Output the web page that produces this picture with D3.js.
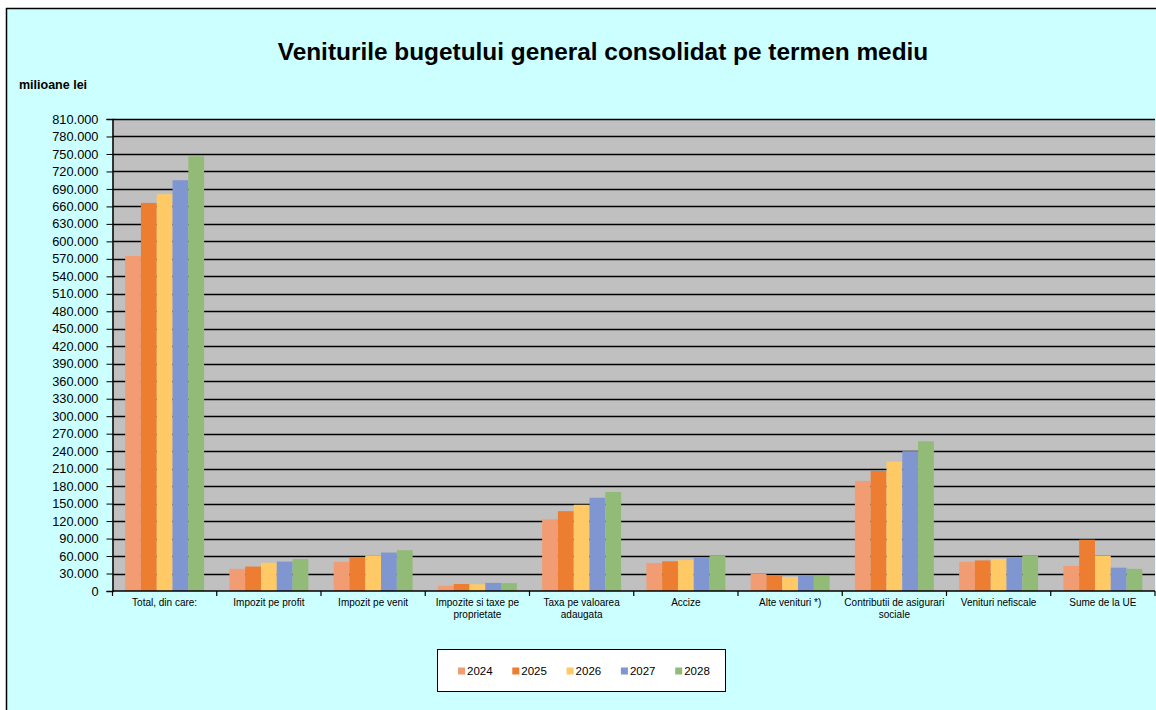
<!DOCTYPE html>
<html>
<head>
<meta charset="utf-8">
<script src="https://cdn.jsdelivr.net/npm/d3@7"></script>
<style>
  html, body { margin: 0; padding: 0; background: #fff; }
  text { font-family: "Liberation Sans", Arial, sans-serif; fill: #000; }
</style>
</head>
<body>
<svg id="chart" width="1156" height="710"></svg>
<script>
var categories = [
  "Total, din care:", "Impozit pe profit", "Impozit pe venit",
  "Impozite si taxe pe|proprietate", "Taxa pe valoarea|adaugata", "Accize",
  "Alte venituri *)", "Contributii de asigurari|sociale", "Venituri nefiscale",
  "Sume de la UE"
];
var years = ["2024", "2025", "2026", "2027", "2028"];

// milioane lei
var v2024 = [575000, 38000, 50000,  9000, 123000, 48000, 30000, 189000, 50000, 43000];
var v2025 = [666000, 42000, 57000, 12000, 137000, 51000, 26000, 206000, 52500, 88000];
var v2026 = [681000, 48500, 61000, 11500, 148000, 53000, 24000, 222000, 55000, 60500];
var v2027 = [705000, 50500, 66000, 14000, 160000, 57000, 26000, 240000, 57000, 40000];
var v2028 = [746000, 55000, 70000, 13500, 170000, 61000, 26000, 257000, 61000, 38000];
var series = [v2024, v2025, v2026, v2027, v2028];

var yTicks = d3.range(0, 810001, 30000);
var colors = ["#F29C74", "#ED7D31", "#FFC966", "#7F96D0", "#93BB78"];

var svg = d3.select("#chart");

// chart background + frame
svg.append("rect").attr("x", 6).attr("y", 8).attr("width", 1150).attr("height", 702)
  .attr("fill", "#CCFFFF");
svg.append("line").attr("x1", 6).attr("x2", 1156).attr("y1", 8.5).attr("y2", 8.5)
  .attr("stroke", "#000").attr("stroke-width", 1.5);
svg.append("line").attr("x1", 6.5).attr("x2", 6.5).attr("y1", 8).attr("y2", 710)
  .attr("stroke", "#000").attr("stroke-width", 1.5);

svg.append("text").attr("x", 603).attr("y", 60).attr("text-anchor", "middle")
  .style("font-size", "24.4px").style("font-weight", "bold")
  .text("Veniturile bugetului general consolidat pe termen mediu");

svg.append("text").attr("x", 19).attr("y", 89)
  .style("font-size", "12.5px").style("font-weight", "bold")
  .text("milioane lei");

var pLeft = 112.5, pRight = 1155, pTop = 119, pBottom = 591;

var x = d3.scaleBand().domain(categories).range([pLeft, pRight]).paddingInner(0).paddingOuter(0);
var inner = 79 / 104.25;
var xs = d3.scaleBand().domain(years)
  .range([x.bandwidth() * (1 - inner) / 2, x.bandwidth() * (1 + inner) / 2]);
var y = d3.scaleLinear().domain([0, 810000]).range([pBottom, pTop]);

svg.append("rect").attr("x", pLeft).attr("y", pTop).attr("width", pRight - pLeft)
  .attr("height", pBottom - pTop).attr("fill", "#C0C0C0");

// gridlines
svg.append("g").selectAll("line").data(yTicks.slice(1)).join("line")
  .attr("x1", pLeft).attr("x2", pRight)
  .attr("y1", function(d) { return Math.round(y(d)) + 0.5; })
  .attr("y2", function(d) { return Math.round(y(d)) + 0.5; })
  .attr("stroke", "#000").attr("stroke-width", 1.3);

// bars
var groups = svg.append("g").selectAll("g").data(categories).join("g")
  .attr("transform", function(d) { return "translate(" + x(d) + ",0)"; });
groups.selectAll("rect")
  .data(function(d, i) { return years.map(function(yr, j) { return { yr: yr, j: j, v: series[j][i] }; }); })
  .join("rect")
  .attr("x", function(d) { return xs(d.yr); })
  .attr("width", xs.bandwidth())
  .attr("y", function(d) { return y(d.v); })
  .attr("height", function(d) { return pBottom - y(d.v); })
  .attr("fill", function(d) { return colors[d.j]; });

// y axis
var yAxis = svg.append("g").attr("transform", "translate(" + pLeft + ",0)")
  .call(d3.axisLeft(y).tickValues(yTicks).tickSize(6).tickPadding(8)
    .tickFormat(function(d) { return d === 0 ? "0" : d3.format(",")(d).replace(/,/g, "."); }));
yAxis.select(".domain").attr("stroke", "#000").attr("stroke-width", 1.5);
yAxis.selectAll(".tick line").attr("stroke", "#000");
yAxis.selectAll("text").style("font-size", "12.8px")
  .style("font-family", "'Liberation Sans', Arial, sans-serif");

// x axis
var xAxisG = svg.append("g").attr("transform", "translate(0," + pBottom + ")");
xAxisG.append("line").attr("x1", pLeft).attr("x2", pRight).attr("y1", 0).attr("y2", 0)
  .attr("stroke", "#000").attr("stroke-width", 1.5);
xAxisG.selectAll(".xt").data(categories.concat(["__end"])).join("line").attr("class", "xt")
  .attr("x1", function(d) { return d === "__end" ? pRight : x(d); })
  .attr("x2", function(d) { return d === "__end" ? pRight : x(d); })
  .attr("y1", 0).attr("y2", 5).attr("stroke", "#000").attr("stroke-width", 1.2);
xAxisG.selectAll(".xl").data(categories).join("text").attr("class", "xl")
  .attr("text-anchor", "middle").style("font-size", "10px")
  .attr("transform", function(d) { return "translate(" + (x(d) + x.bandwidth() / 2) + ",15)"; })
  .each(function(d) {
    var t = d3.select(this);
    d.split("|").forEach(function(line, i) {
      t.append("tspan").attr("x", 0).attr("y", i * 12).text(line);
    });
  });

// legend
var lg = svg.append("g");
lg.append("rect").attr("x", 437.5).attr("y", 649.5).attr("width", 288).attr("height", 42)
  .attr("fill", "#fff").attr("stroke", "#000").attr("stroke-width", 1);
var items = lg.selectAll(".li").data(years).join("g").attr("class", "li")
  .attr("transform", function(d, i) { return "translate(" + (458 + i * 54.3) + ",671)"; });
items.append("rect").attr("x", 0).attr("y", -3.5).attr("width", 7).attr("height", 7)
  .attr("fill", function(d, i) { return colors[i]; });
items.append("text").attr("x", 9).attr("y", 4).style("font-size", "11.5px")
  .text(function(d) { return d; });
</script>
</body>
</html>
